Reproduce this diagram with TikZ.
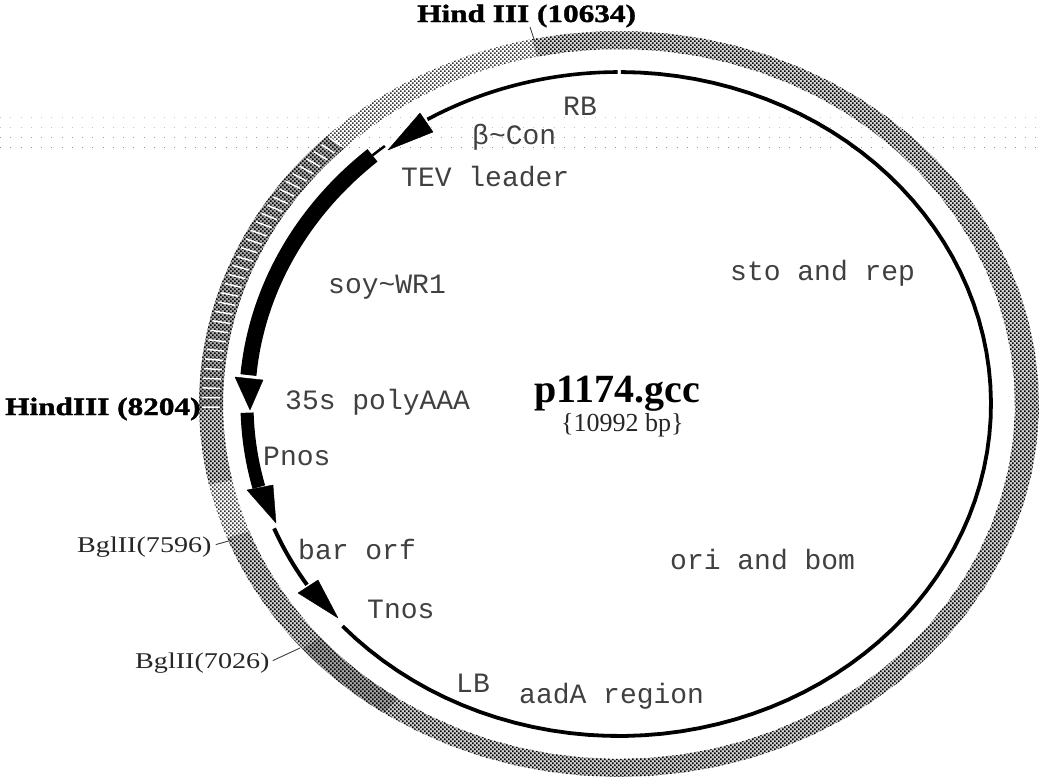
\documentclass[tikz,border=0pt]{standalone}
\usepackage{fontspec}
\usepackage{graphicx}
\usetikzlibrary{patterns}
\newfontfamily\feat{Liberation Mono}
\newfontfamily\headf{Liberation Serif}[BoldFont={Liberation Serif Bold}]
\newfontfamily\sitef{Liberation Serif}[BoldFont={Liberation Serif Bold},FakeStretch=1.25]
\newfontfamily\sitebf{Liberation Serif Bold}[FakeStretch=1.25,FakeBold=1.5]
\pgfdeclarepatternformonly{dith}{\pgfqpoint{-1pt}{-1pt}}{\pgfqpoint{4pt}{4pt}}{\pgfqpoint{4pt}{4pt}}{%
  \pgfpathrectangle{\pgfqpoint{0pt}{0pt}}{\pgfqpoint{1.7pt}{1.7pt}}%
  \pgfpathrectangle{\pgfqpoint{2pt}{2pt}}{\pgfqpoint{1.7pt}{1.7pt}}%
  \pgfusepath{fill}}
\newcommand{\ringseg}[3]{%
  \path[#3] plot[domain=#1:#2,samples=50] ({619+420*cos(\x)},{404-373*sin(\x)})
    -- plot[domain=#2:#1,samples=50] ({619+396*cos(\x)},{404-355*sin(\x)}) -- cycle;}
\newcommand{\plasarc}[3]{%
  \draw[line width=#3,black,line cap=butt] plot[domain=#1:#2,samples=80] ({619+372*cos(\x)},{404-332*sin(\x)});}
\tikzset{
  ringmid/.style={fill=gray!35,postaction={pattern=dith,pattern color=black}},
  ringdark/.style={fill=gray!70,postaction={pattern=dith,pattern color=black}},
  ringlight/.style={fill=white,postaction={pattern=dith,pattern color=black!80}},
  feature/.style={font=\feat\fontsize{28}{28}\selectfont,text=black!75,anchor=base west,inner sep=0pt},
  major/.style={font=\sitebf\fontsize{25}{25}\selectfont,anchor=base west,inner sep=0pt},
  minor/.style={font=\sitef\fontsize{22.5}{22.5}\selectfont,text=black!85,anchor=base west,inner sep=0pt},
  leader/.style={draw=black!75,line width=0.9pt},
  headarrow/.style={fill=black,draw=black,line join=round}
}
\begin{document}
\begin{tikzpicture}[x=1pt,y=-1pt]
\useasboundingbox (0,0) rectangle (1041,780);
\fill[white] (0,0) rectangle (1041,780);
% pale dotted rows
\foreach \r/\g in {117/22,127/24,137/38,147/42}
  \draw[black!\g,line width=1pt,dash pattern=on 1pt off 9.25pt] (0,\r) -- (1041,\r);
% ring
\ringseg{-128}{102}{ringmid}
\ringseg{102}{134}{ringlight}
\ringseg{134}{181}{ringdark}
\foreach \t in {134,135.5,...,181}
  \draw[white,line width=1.5pt] ({619+417*cos(\t)},{404-370*sin(\t)}) -- ({619+399*cos(\t)},{404-358*sin(\t)});
\ringseg{181}{192.5}{ringmid}
\ringseg{192.5}{201}{ringlight}
\ringseg{201}{221}{ringmid}
\ringseg{221}{236}{ringdark}
% plasmid line
\plasarc{90.2}{121}{3.6pt}
\plasarc{129}{131.5}{2.5pt}
\plasarc{131.5}{175}{16pt}
\plasarc{181.5}{194.5}{13pt}
\plasarc{202}{213}{4pt}
\plasarc{222}{449.7}{3.8pt}
% arrowheads
\fill[headarrow] (420,113) -- (433,132) -- (388,150) -- cycle;
\fill[headarrow] (235,377) -- (263,380) -- (250,410) -- cycle;
\fill[headarrow] (247,490) -- (273,485) -- (276,523) -- cycle;
\fill[headarrow] (298,593) -- (318,580) -- (338,618) -- cycle;
% feature labels
\node[feature] (rb) at (563,115) {RB};
\node[feature] (bcon) at (472,144) {β\textasciitilde Con};
\node[feature] (tev) at (401,186) {TEV leader};
\node[feature] (soy) at (328,293) {soy\textasciitilde WR1};
\node[feature] (sto) at (730,280) {sto and rep};
\node[feature] (polya) at (285,409) {35s polyAAA};
\node[feature] (pnos) at (263,465) {Pnos};
\node[feature] (bar) at (298,559) {bar orf};
\node[feature] (ori) at (670,569) {ori and bom};
\node[feature] (tnos) at (367,618) {Tnos};
\node[feature] (lb) at (456,692) {LB};
\node[feature] (aada) at (519,703) {aadA region};
% centre
\node[font=\headf\bfseries\fontsize{40}{40}\selectfont,anchor=base west,inner sep=0pt] (name) at (534,402) {p1174.gcc};
\node[font=\headf\fontsize{26}{26}\selectfont,text=black!85,anchor=base west,inner sep=0pt] (size) at (561,431) {\{10992 bp\}};
% sites
\node[major] (h1) at (417,22) {Hind III (10634)};
\node[major] (h2) at (5,415) {HindIII (8204)};
\node[minor] (b1) at (77,552) {BglII(7596)};
\node[minor] (b2) at (135,668) {BglII(7026)};
\coordinate (h1c) at (535,42);
\coordinate (b1c) at (232,540);
\coordinate (b2c) at (300,648);
\coordinate (h1s) at (530,27);
\draw[leader] (h1s) -- (h1c);
\draw[leader] (b1.east) ++(4,-2) -- (b1c);
\draw[leader] (b2.east) ++(3,-2) -- (b2c);
\end{tikzpicture}
\end{document}
